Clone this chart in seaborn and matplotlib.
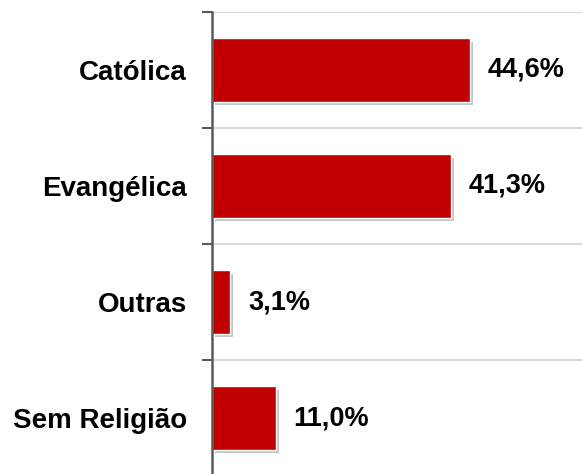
from matplotlib import pyplot as plt
import matplotlib.patheffects as pe
import pandas as pd
import seaborn as sns

# dados do grafico
categorias = ["Católica", "Evangélica", "Outras", "Sem Religião"]
valores = [44.6, 41.3, 3.1, 11.0]
rotulos = ["44,6%", "41,3%", "3,1%", "11,0%"]

df = pd.DataFrame({"religiao": categorias, "pct": valores})

sns.set_style("white")
plt.rcParams["font.family"] = ["Liberation Sans", "DejaVu Sans"]

fig = plt.figure(figsize=(5.82, 4.74), dpi=100)
ax = fig.add_axes([212 / 582, -2 / 474, 370 / 582, 464 / 474])

sns.barplot(data=df, y="religiao", x="pct", orient="y", color="#C00000",
            width=0.55, saturation=1, ax=ax, zorder=3)

for bar in ax.patches:
    bar.set_path_effects([pe.SimplePatchShadow(offset=(2.5, -2.5), alpha=0.3,
                                               shadow_rgbFace="#444444"),
                          pe.Normal()])

ax.set_xlim(0, 64)
ax.set_ylim(3.5, -0.5)
ax.set_xlabel("")
ax.set_ylabel("")
ax.set_xticks([])

# linhas de grade nos limites das categorias
limites = [i - 0.5 for i in range(len(categorias))]
ax.set_yticks(limites, minor=True)
ax.tick_params(axis="y", which="minor", length=7, width=1.5, color="#595959",
               left=True)
ax.set_yticks(range(len(categorias)))
ax.set_yticklabels(categorias, fontsize=20, fontweight="bold", color="black")
ax.tick_params(axis="y", which="major", length=0, pad=18)
for y in limites:
    ax.axhline(y, color="#d9d9d9", lw=1.5, zorder=1)

for s in ["top", "right", "bottom"]:
    ax.spines[s].set_visible(False)
ax.spines["left"].set_color("#595959")
ax.spines["left"].set_linewidth(1.8)
ax.spines["left"].set_zorder(4)

for i, (v, t) in enumerate(zip(valores, rotulos)):
    ax.annotate(t, (v, i), xytext=(13, 0), textcoords="offset points",
                va="center", ha="left", fontsize=19.5, fontweight="bold",
                color="black")

fig.savefig("out.png", dpi=100)
